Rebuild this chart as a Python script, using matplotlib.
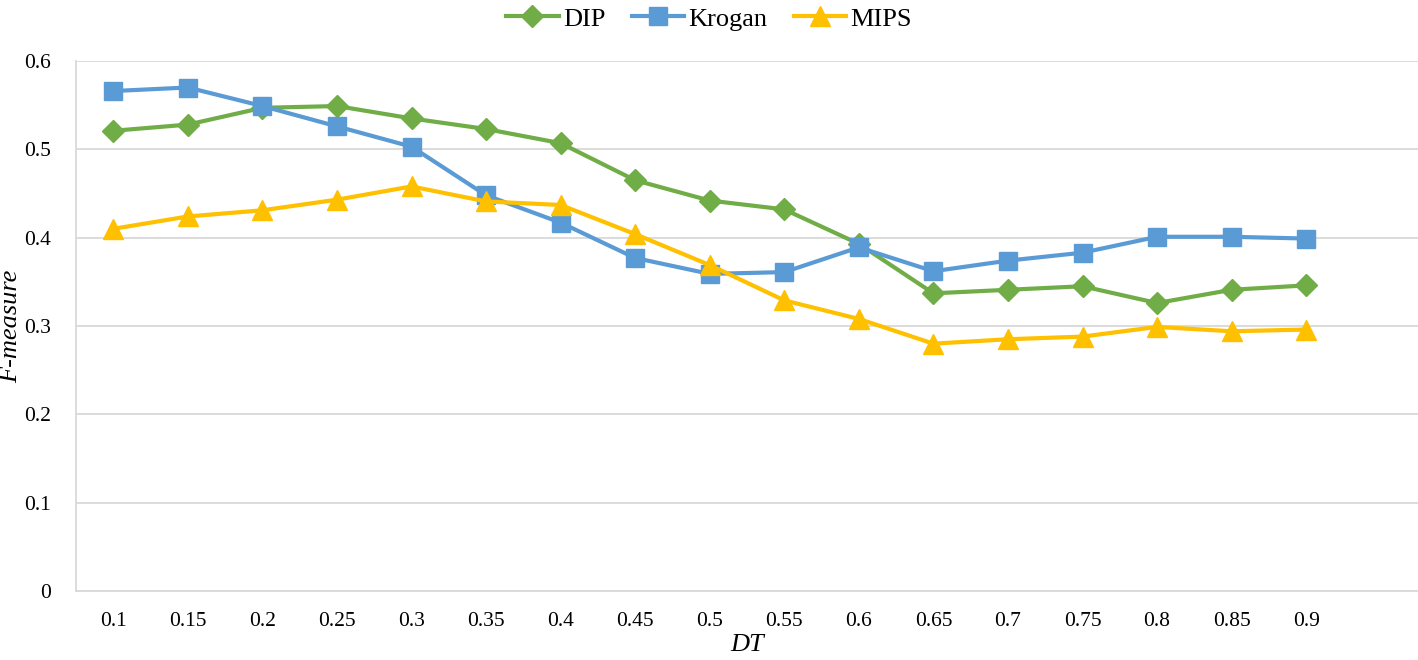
import matplotlib
matplotlib.use("Agg")
import matplotlib.pyplot as plt

categories = ["0.1", "0.15", "0.2", "0.25", "0.3", "0.35", "0.4", "0.45", "0.5",
              "0.55", "0.6", "0.65", "0.7", "0.75", "0.8", "0.85", "0.9"]
dip = [0.521, 0.528, 0.547, 0.549, 0.535, 0.523, 0.507, 0.465, 0.442,
       0.432, 0.393, 0.337, 0.341, 0.345, 0.326, 0.341, 0.346]
krogan = [0.566, 0.570, 0.549, 0.526, 0.503, 0.448, 0.417, 0.377, 0.359,
          0.361, 0.389, 0.362, 0.374, 0.383, 0.401, 0.401, 0.399]
mips = [0.410, 0.424, 0.431, 0.443, 0.458, 0.441, 0.437, 0.404, 0.369,
        0.329, 0.308, 0.280, 0.285, 0.288, 0.299, 0.294, 0.296]
yticks = [0, 0.1, 0.2, 0.3, 0.4, 0.5, 0.6]
ytick_labels = ["0", "0.1", "0.2", "0.3", "0.4", "0.5", "0.6"]

plt.rcParams['font.family'] = ['Liberation Serif', 'DejaVu Serif']

fig = plt.figure(figsize=(14.18, 6.6), dpi=100)
ax = fig.add_axes([76 / 1418, 1 - 591 / 660, 1 - 76 / 1418, (591 - 61) / 660])

x = list(range(len(categories)))
ax.plot(x, dip, color="#70AD47", lw=3, marker="D", markersize=11, label="DIP", zorder=3)
ax.plot(x, krogan, color="#5B9BD5", lw=3, marker="s", markersize=13, label="Krogan", zorder=3)
ax.plot(x, mips, color="#FFC000", lw=3, marker="^", markersize=14, label="MIPS", zorder=3)

ax.set_xlim(-0.5, len(categories) + 0.5)
ax.set_ylim(0, 0.6)
ax.set_xticks(x)
ax.set_xticklabels(categories, fontsize=15.5)
ax.set_yticks(yticks)
ax.set_yticklabels(ytick_labels, fontsize=15.5)
ax.tick_params(axis="both", length=0)
ax.tick_params(axis="x", pad=15)
ax.tick_params(axis="y", pad=18)

ax.grid(axis="y", color="#D9D9D9", lw=1.3)
ax.set_axisbelow(True)
for s in ["top", "right"]:
    ax.spines[s].set_visible(False)
for s in ["left", "bottom"]:
    ax.spines[s].set_color("#D9D9D9")
    ax.spines[s].set_linewidth(1.3)

fig.text(11 / 1418, 1 - 326 / 660, "F-measure", fontsize=19, style="italic",
         rotation=90, ha="center", va="center")
fig.text(747 / 1418, 1 - 645 / 660, "DT", fontsize=19, style="italic",
         ha="center", va="center")

fig.legend(loc="upper center", bbox_to_anchor=(0.5, 1.025), ncol=3, frameon=False,
           fontsize=19, handlelength=2.0, columnspacing=1.0, handletextpad=0.15)

fig.savefig("out.png", dpi=100)
